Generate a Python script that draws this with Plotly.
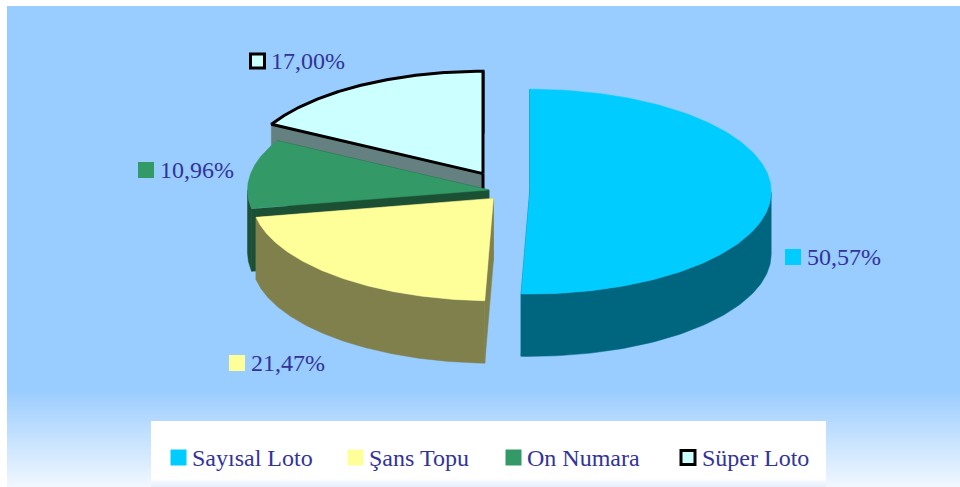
import numpy as np
import plotly.graph_objects as go

# ---- data ----
categories = ["Sayısal Loto", "Şans Topu", "On Numara", "Süper Loto"]
shares = [50.57, 21.47, 10.96, 17.00]
share_labels = ["50,57%", "21,47%", "10,96%", "17,00%"]

# ---- style ----
top_colors = ["#00CCFF", "#FFFF99", "#339966", "#CCFFFF"]
side_colors = ["#006680", "#80804C", "#1B5034", "#648080"]
outlines = [None, None, None, "#000000"]
TEXT = "#333399"
BG = "#99CCFF"
FONT = "Liberation Serif"

W, H = 960, 487
RX, RY, DEPTH = 241.5, 102.4, 62.4
# slice apex on screen (exploded slices)
apex = [(529.7, 191.6), (493.4, 198.4), (489.0, 190.0), (483.0, 173.6)]
# swatch centre of every data label
label_pos = [(793, 257), (237, 363), (146, 170), (257.5, 61)]
# swatch centre of every legend entry
legend_pos = [(178.5, 457.5), (355.5, 457.5), (513.5, 457.5), (688, 457.5)]


def rim(c, a):
    a = np.radians(a)
    return c[0] + RX * np.sin(a), c[1] - RY * np.cos(a)


fig = go.Figure()


def poly(xs, ys, fill, line=None, width=0):
    fig.add_trace(go.Scatter(
        x=list(xs), y=list(ys), mode="lines", fill="toself", fillcolor=fill,
        line=dict(color=line or fill, width=width if line else 0.5),
        showlegend=False, hoverinfo="skip"))


def keyed_text(x, y, text, i, size):
    """A square swatch with its text to the right of it."""
    fig.add_trace(go.Scatter(
        x=[x], y=[y], mode="markers", hoverinfo="skip", showlegend=False,
        marker=dict(symbol="square", size=14 if outlines[i] else 16, color=top_colors[i],
                    line=dict(color=outlines[i] or top_colors[i], width=3 if outlines[i] else 0))))
    fig.add_annotation(x=x + 13.5, y=y, text=text, showarrow=False, xanchor="left", yanchor="middle",
                       borderpad=0, borderwidth=0,
                       font=dict(family=FONT, size=size, color=TEXT))


# angular extents from the shares
edges = np.concatenate([[0], np.cumsum(shares)]) / sum(shares) * 360

# painter's order: back slices first
for i in [3, 2, 1, 0]:
    c = apex[i]
    a0, a1 = edges[i], edges[i + 1]
    ang = np.linspace(a0, a1, 160)
    rx, ry = rim(c, ang)
    side = side_colors[i]
    # cut faces
    for a in (a0, a1):
        px, py = rim(c, a)
        poly([c[0], px, px, c[0], c[0]],
             [c[1], py, py + DEPTH, c[1] + DEPTH, c[1]], side)
    # outer wall: only the part of the rim facing the viewer
    front = ang[(ang >= 90) & (ang <= 270)]
    if front.size:
        fx, fy = rim(c, front)
        poly(np.r_[fx, fx[::-1], fx[0]], np.r_[fy, fy[::-1] + DEPTH, fy[0]], side)
    # black wireframe edges of the outlined slice
    if outlines[i]:
        qx, qy = rim(c, a1)
        for (vx, vy) in ((qx, qy), c):
            fig.add_trace(go.Scatter(x=[vx, vx], y=[vy, vy + DEPTH], mode="lines",
                                     line=dict(color=outlines[i], width=3),
                                     showlegend=False, hoverinfo="skip"))
    # top face
    poly(np.r_[c[0], rx, c[0]], np.r_[c[1], ry, c[1]], top_colors[i],
         outlines[i], 3)

# data labels
for i in range(4):
    keyed_text(label_pos[i][0], label_pos[i][1], share_labels[i], i, 24)

# legend entries
for i, name in enumerate(categories):
    keyed_text(legend_pos[i][0], legend_pos[i][1], name, i, 24)

# background: flat blue fading to white at the bottom
shapes = [dict(type="rect", layer="below", xref="x", yref="y", x0=7, x1=W, y0=6, y1=388,
               fillcolor=BG, line_width=0)]
g0 = np.array([0x99, 0xCC, 0xFF])
g1 = np.array([0xF2, 0xF8, 0xFF])
for y in range(388, H):
    t = (y - 388) / (H - 388)
    r, g, b = (g0 + (g1 - g0) * t).astype(int)
    shapes.append(dict(type="rect", layer="below", xref="x", yref="y", x0=7, x1=W, y0=y, y1=y + 1,
                       fillcolor=f"rgb({r},{g},{b})", line_width=0))
shapes.append(dict(type="rect", layer="below", xref="x", yref="y", x0=151, x1=826, y0=421, y1=478,
                   fillcolor="#FFFFFF", line_width=0))
b0 = np.array([0xFF, 0xFF, 0xFF])
b1 = np.array([0xE3, 0xEE, 0xFD])
for y in range(478, H):
    t = (y - 478) / (H - 478)
    r, g, b = (b0 + (b1 - b0) * t).astype(int)
    shapes.append(dict(type="rect", layer="below", xref="x", yref="y", x0=151, x1=826, y0=y, y1=y + 1,
                       fillcolor=f"rgb({r},{g},{b})", line_width=0))

fig.update_layout(
    width=W, height=H, margin=dict(l=0, r=0, t=0, b=0),
    paper_bgcolor="#FFFFFF", plot_bgcolor="rgba(0,0,0,0)",
    xaxis=dict(range=[0, W], visible=False, fixedrange=True),
    yaxis=dict(range=[H, 0], visible=False, fixedrange=True),
    shapes=shapes, showlegend=False,
    font=dict(family=FONT),
)
fig.write_html("out.html", config=dict(displayModeBar=False),
               post_script="document.body.style.margin='0';document.body.style.overflow='hidden';")
